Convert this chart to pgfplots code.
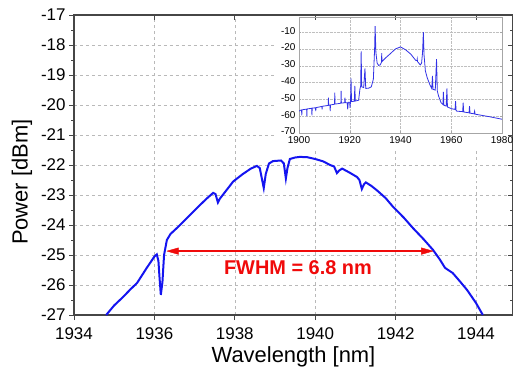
\documentclass[border=0pt]{standalone}
\usepackage{pgfplots}
\pgfplotsset{compat=1.18}
\usepackage{fontspec}
\setmainfont{Liberation Sans}
\definecolor{curveblue}{RGB}{20,20,240}
\definecolor{insetblue}{RGB}{50,50,230}
\definecolor{fwhmred}{RGB}{240,10,10}
\definecolor{axisgray}{RGB}{70,70,70}
\begin{document}
\begin{tikzpicture}
\begin{axis}[
  at={(0,0)}, anchor=south west,
  scale only axis, width=439bp, height=300bp,
  xmin=1934, xmax=1944.92, ymin=-27, ymax=-17,
  xtick={1934,1936,...,1944}, ytick={-27,-26,...,-17},
  minor x tick num=1, minor y tick num=1,
  tick align=outside, xtick pos=left, ytick pos=left,
  grid=major,
  major grid style={dashed, gray!55, line width=0.6bp},
  axis line style={draw=axisgray, line width=1.1bp},
  major tick length=5bp, minor tick length=3bp,
  every tick/.style={axisgray, line width=0.8bp},
  ticklabel style={font=\fontsize{17}{17}\selectfont},
  xticklabel style={yshift=-4bp},
  /pgf/number format/assume math mode=true,
  /pgf/number format/1000 sep={},
  xlabel={Wavelength [nm]}, ylabel={Power [dBm]},
  label style={font=\fontsize{22}{22}\selectfont},
  xlabel style={at={(axis description cs:0.5,-0.157)}, anchor=base},
  ylabel style={at={(axis description cs:-0.1185,0.443)}, anchor=center},
]
\addplot[curveblue, line width=2bp] coordinates {
(1934.8,-27.0)(1935.0,-26.68)(1935.22,-26.4)(1935.4,-26.15)(1935.57,-25.93)
(1935.8,-25.45)(1936.0,-25.05)(1936.06,-24.98)(1936.1,-25.2)(1936.13,-25.8)
(1936.16,-26.33)(1936.2,-25.9)(1936.24,-25.0)(1936.31,-24.5)(1936.4,-24.3)
(1936.56,-24.1)(1936.8,-23.78)(1937.06,-23.43)(1937.3,-23.12)(1937.46,-22.93)
(1937.52,-22.97)(1937.58,-23.25)(1937.63,-23.12)(1937.7,-23.0)(1937.96,-22.55)
(1938.2,-22.3)(1938.4,-22.12)(1938.55,-22.03)(1938.62,-22.1)(1938.68,-22.5)
(1938.72,-22.77)(1938.77,-22.3)(1938.85,-21.95)(1938.95,-21.87)(1939.15,-21.85)
(1939.22,-21.95)(1939.27,-22.45)(1939.31,-22.1)(1939.37,-21.8)(1939.5,-21.75)
(1939.62,-21.73)(1939.8,-21.74)(1940.0,-21.8)(1940.2,-21.88)(1940.37,-22.0)
(1940.47,-22.05)(1940.54,-22.27)(1940.6,-22.18)(1940.67,-22.12)(1940.85,-22.25)
(1941.04,-22.4)(1941.1,-22.5)(1941.16,-22.8)(1941.21,-22.65)(1941.26,-22.58)
(1941.4,-22.7)(1941.54,-22.85)(1941.75,-23.1)(1941.94,-23.4)(1942.2,-23.75)
(1942.43,-24.1)(1942.7,-24.48)(1942.93,-24.83)(1943.1,-25.15)(1943.23,-25.43)
(1943.33,-25.52)(1943.42,-25.6)(1943.6,-25.88)(1943.78,-26.17)(1944.0,-26.6)
(1944.17,-27.0)
};
\addplot[fwhmred, line width=1.6bp] coordinates {(1936.55,-24.87) (1942.7,-24.87)};
\addplot[fwhmred, fill=fwhmred, line width=0.4bp] coordinates {(1936.31,-24.87) (1936.6,-24.76) (1936.6,-24.98) (1936.31,-24.87)};
\addplot[fwhmred, fill=fwhmred, line width=0.4bp] coordinates {(1942.93,-24.87) (1942.64,-24.76) (1942.64,-24.98) (1942.93,-24.87)};
\node[text=fwhmred, font=\bfseries\fontsize{20}{20}\selectfont] at (axis cs:1939.57,-25.42) {FWHM = 6.8 nm};
\end{axis}
\fill[white] (201bp,167bp) rectangle (433bp,298.4bp);
\begin{axis}[
  at={(0,0)}, anchor=south west,
  scale only axis, width=439bp, height=300bp,
  xmin=1934, xmax=1944.92, ymin=-27, ymax=-17,
  xtick={1934,1936,...,1944}, ytick={-27,-26,...,-17},
  minor x tick num=1, minor y tick num=1,
  axis x line*=top, axis y line*=right,
  tick align=inside, xticklabels={}, yticklabels={},
  axis line style={draw=axisgray, line width=1.1bp},
  major tick length=5bp, minor tick length=3bp,
  every tick/.style={axisgray, line width=0.8bp},
]
\end{axis}
\begin{axis}[
  at={(225bp,182bp)}, anchor=south west,
  scale only axis, width=203bp, height=116bp,
  xmin=1900, xmax=1980, ymin=-70, ymax=-1,
  xtick={1900,1920,...,1980}, ytick={-70,-60,...,-10},
  grid=major,
  major grid style={densely dotted, gray!50, line width=0.5bp},
  axis line style={draw=gray!70, line width=0.6bp},
  tick align=inside, major tick length=2bp,
  every tick/.style={gray!70, line width=0.5bp},
  ticklabel style={font=\fontsize{10}{10}\selectfont},
  xticklabel style={yshift=-0.5bp},
  yticklabel style={yshift=1.5bp},
  /pgf/number format/assume math mode=true,
  /pgf/number format/1000 sep={},
]
\addplot[insetblue, line width=0.8bp] coordinates {
(1900,-57)(1900.5,-56.5)(1901,-56.3)(1901.1,-59.5)(1901.2,-56.2)(1903,-55.8)(1903.1,-60)(1903.2,-55.7)
(1905,-55.3)(1905.1,-59.5)(1905.2,-55.2)(1906.5,-55)(1906.6,-57)(1906.7,-54.9)(1909,-54.2)(1909.1,-56)
(1909.2,-54.1)(1911.5,-53.6)(1911.6,-49)(1911.7,-53.5)(1912.2,-53.4)(1912.3,-57)(1912.4,-53.3)
(1914,-52.9)(1914.1,-46)(1914.2,-52.8)(1916.5,-52.3)(1916.6,-45)(1916.7,-52.2)(1918,-52)(1918.1,-49)
(1918.3,-52)(1919,-52)(1919.2,-56)(1919.4,-51.8)(1920,-51.7)(1920.1,-55)(1920.3,-51.5)(1920.5,-37.5)
(1920.7,-51.3)(1921.8,-51.1)(1922,-42)(1922.2,-51)(1923.5,-50.5)(1924,-44)(1924.3,-42)(1924.5,-21.5)
(1924.7,-42.5)(1925.5,-43)(1926,-31.5)(1926.3,-43.5)(1927.5,-43.3)(1928.5,-42.5)(1929.3,-38)
(1929.8,-20)(1930,-6.5)(1930.3,-22)(1930.8,-28.5)(1931.4,-29.8)(1932,-29.5)(1932.5,-28)(1932.6,-22.5)
(1932.7,-27.5)(1934,-25.5)(1936,-22.8)(1938,-20)(1940,-18.8)(1942,-20.5)(1944,-23)(1946,-26.8)
(1946.5,-27)(1946.6,-26)(1946.7,-27.5)(1947.8,-29.5)(1948.3,-28.5)(1948.7,-22)(1949,-10)(1949.3,-24)
(1949.8,-33)(1950.5,-37)(1951.5,-41)(1952.3,-43.5)(1952.6,-36)(1952.8,-44)(1953.7,-44.5)(1954.2,-26)
(1954.5,-45)(1955,-48)(1956,-52)(1956.7,-53)(1956.9,-45.5)(1957.1,-53.5)(1958,-54)(1958.3,-43.5)
(1958.5,-54.5)(1960,-55.5)(1961.5,-56)(1961.7,-51)(1961.9,-56.5)(1962.2,-57)(1964.5,-57.3)(1964.7,-52)
(1964.9,-57.5)(1967,-58)(1967.2,-54)(1967.4,-58.2)(1969,-58.6)(1969.2,-57)(1969.4,-58.8)(1975,-60.3)
(1980,-61.8)
};
\end{axis}
\pgfresetboundingbox
\path (-74bp,-58bp) rectangle (439bp,315bp);
\end{tikzpicture}
\end{document}
